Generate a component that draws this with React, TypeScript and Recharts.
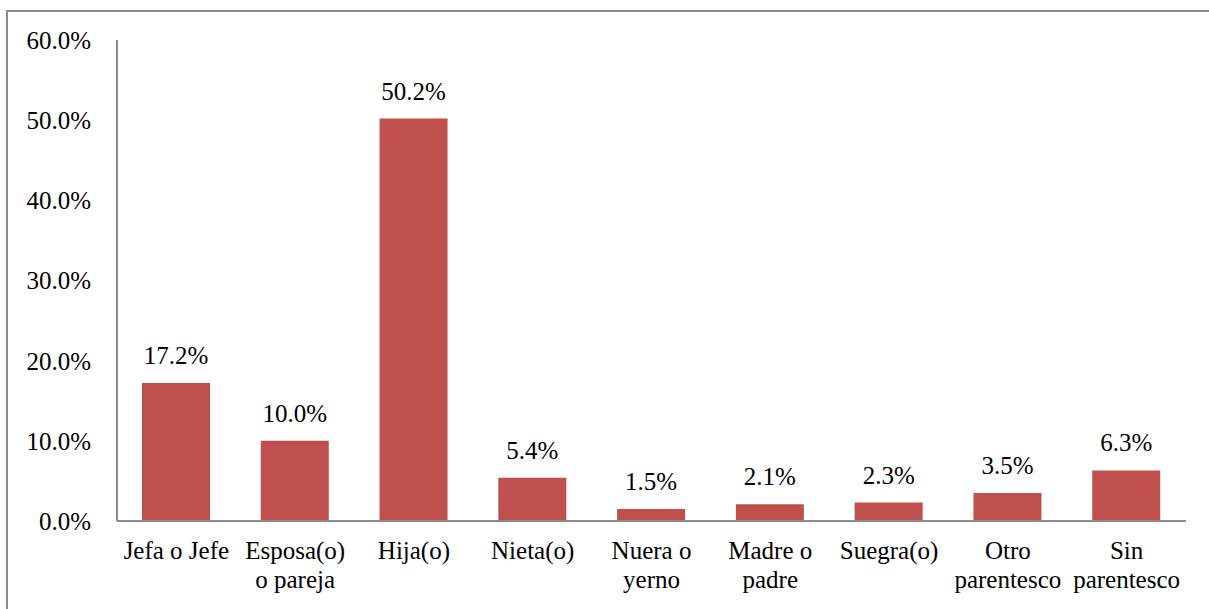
import React from "react";
import { Bar, BarChart, LabelList, XAxis, YAxis } from "recharts";

// Parentesco con la jefa o jefe del hogar (%)
const CATEGORIES = [
  "Jefa o Jefe",
  "Esposa(o)\no pareja",
  "Hija(o)",
  "Nieta(o)",
  "Nuera o\nyerno",
  "Madre o\npadre",
  "Suegra(o)",
  "Otro\nparentesco",
  "Sin\nparentesco",
];
const VALUES = [17.2, 10.0, 50.2, 5.4, 1.5, 2.1, 2.3, 3.5, 6.3];
const Y_TICKS = [0, 10, 20, 30, 40, 50, 60];

const FONT = "'Times New Roman', 'Liberation Serif', 'DejaVu Serif', serif";
const FONT_SIZE = 25;
const BAR_COLOR = "#c0504d";
const AXIS_COLOR = "#8c8c8c";

const rows = CATEGORIES.map((name, i) => ({ name, value: VALUES[i] }));

const pct = (v: number) => `${Number(v).toFixed(1)}%`;

const textStyle = { fill: "#000", fontSize: FONT_SIZE, fontFamily: FONT };

function CategoryTick({ x, y, payload }: { x?: number; y?: number; payload?: { value: string } }) {
  const lines = String(payload?.value ?? "").split("\n");
  return (
    <text x={x} y={y} textAnchor="middle" style={textStyle}>
      {lines.map((line, i) => (
        <tspan key={i} x={x} dy={i === 0 ? 30 : 29}>
          {line}
        </tspan>
      ))}
    </text>
  );
}

export default function App() {
  return (
    <div
      style={{
        position: "absolute",
        left: 0,
        top: 0,
        width: 1209,
        height: 609,
        background: "#fff",
        overflow: "hidden",
        fontFamily: FONT,
      }}
    >
      {/* chart area frame, cut off by the page edge */}
      <div
        style={{
          position: "absolute",
          left: 6,
          top: 10,
          width: 1230,
          height: 640,
          border: `2px solid ${AXIS_COLOR}`,
        }}
      />
      <BarChart
        width={1209}
        height={609}
        data={rows}
        margin={{ top: 40, right: 23, left: 0, bottom: 0 }}
        style={{ position: "absolute", left: 0, top: 0, fontFamily: FONT }}
      >
        <XAxis
          dataKey="name"
          height={88}
          interval={0}
          tickLine={false}
          axisLine={{ stroke: AXIS_COLOR, strokeWidth: 2 }}
          tick={<CategoryTick />}
        />
        <YAxis
          width={117}
          domain={[0, 60]}
          ticks={Y_TICKS}
          tickFormatter={pct}
          tickLine={false}
          tickSize={0}
          tickMargin={26}
          axisLine={{ stroke: AXIS_COLOR, strokeWidth: 2 }}
          tick={{ ...textStyle, style: textStyle }}
        />
        <Bar dataKey="value" fill={BAR_COLOR} barSize={68} isAnimationActive={false}>
          <LabelList
            dataKey="value"
            position="top"
            offset={19}
            formatter={(v: number) => pct(v)}
            style={textStyle}
          />
        </Bar>
      </BarChart>
    </div>
  );
}
